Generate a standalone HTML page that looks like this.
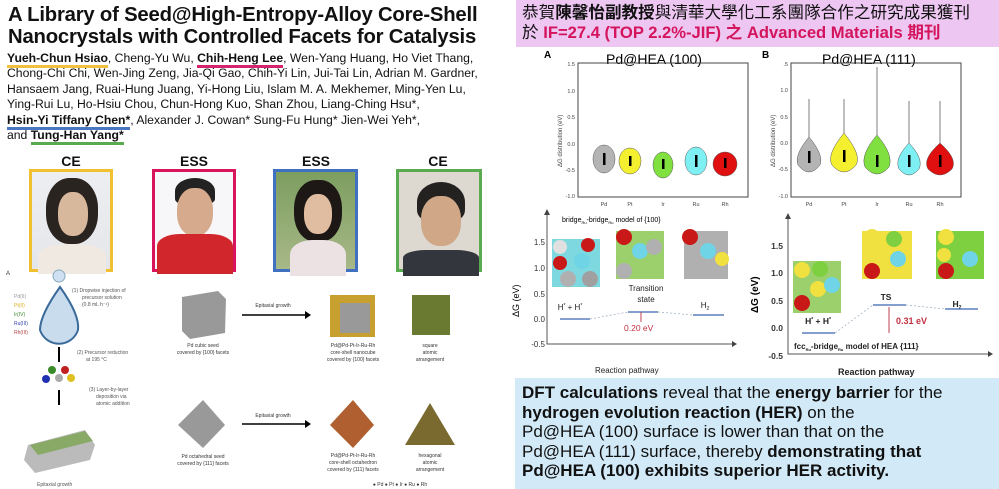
<!DOCTYPE html>
<html><head><meta charset="utf-8"><style>
*{margin:0;padding:0;box-sizing:border-box}
body{width:999px;height:489px;background:#fff;position:relative;overflow:hidden;font-family:"Liberation Sans","Noto Sans CJK TC",sans-serif;color:#111}
.a{position:absolute;white-space:nowrap}
.title{left:8px;top:4px;font-size:20.3px;font-weight:bold;line-height:22px;letter-spacing:-0.2px}
.auth{left:7px;top:51px;font-size:12.2px;line-height:15.4px}
.u{padding-bottom:0;border-bottom:3px solid}
.lab{font-size:14px;font-weight:bold;text-align:center;width:80px}
.ph{position:absolute;border:3px solid}
</style></head><body>
<div class="a title">A Library of Seed@High-Entropy-Alloy Core-Shell<br>Nanocrystals with Controlled Facets for Catalysis</div>
<div class="a auth"><b class="u" style="border-color:#f0c040">Yueh-Chun Hsiao</b>, Cheng-Yu Wu, <b class="u" style="border-color:#d4246e">Chih-Heng Lee</b>, Wen-Yang Huang, Ho Viet Thang,<br>Chong-Chi Chi, Wen-Jing Zeng, Jia-Qi Gao, Chih-Yi Lin, Jui-Tai Lin, Adrian M. Gardner,<br>Hansaem Jang, Ruai-Hung Juang, Yi-Hong Liu, Islam M. A. Mekhemer, Ming-Yen Lu,<br>Ying-Rui Lu, Ho-Hsiu Chou, Chun-Hong Kuo, Shan Zhou, Liang-Ching Hsu*,<br><b class="u" style="border-color:#4a78c0">Hsin-Yi Tiffany Chen*</b>, Alexander J. Cowan* Sung-Fu Hung* Jien-Wei Yeh*,<br>and <b class="u" style="border-color:#5aaa50">Tung-Han Yang*</b></div>

<div class="a lab" style="left:31px;top:153px">CE</div>
<div class="a lab" style="left:154px;top:153px">ESS</div>
<div class="a lab" style="left:276px;top:153px">ESS</div>
<div class="a lab" style="left:398px;top:153px">CE</div>
<div class="ph" style="left:29px;top:169px;width:84px;height:103px;border-color:#f0c030;background:linear-gradient(#eceef2,#e4e6ea)"><div style="position:absolute;left:14px;top:6px;width:52px;height:66px;border-radius:45%;background:#2a2420"></div><div style="position:absolute;left:26px;top:20px;width:30px;height:44px;border-radius:45%;background:#d8b89c"></div><div style="position:absolute;left:6px;top:72px;width:68px;height:30px;border-radius:40% 40% 0 0;background:#efe9e2"></div></div>
<div class="ph" style="left:152px;top:169px;width:84px;height:103px;border-color:#d8145c;background:#f7f7f9"><div style="position:absolute;left:20px;top:6px;width:40px;height:26px;border-radius:50% 50% 20% 20%;background:#222"></div><div style="position:absolute;left:22px;top:16px;width:36px;height:48px;border-radius:45%;background:#d6aa8c"></div><div style="position:absolute;left:2px;top:62px;width:76px;height:40px;border-radius:30% 30% 0 0;background:#d0262c"></div></div>
<div class="ph" style="left:273px;top:169px;width:85px;height:103px;border-color:#4070c0;background:linear-gradient(#7c9e60,#a8b888)"><div style="position:absolute;left:18px;top:8px;width:48px;height:62px;border-radius:45%;background:#1d1816"></div><div style="position:absolute;left:28px;top:22px;width:28px;height:40px;border-radius:45%;background:#e0bca0"></div><div style="position:absolute;left:14px;top:68px;width:56px;height:36px;border-radius:40% 40% 0 0;background:#ece2e4"></div></div>
<div class="ph" style="left:396px;top:169px;width:86px;height:103px;border-color:#5aaa50;background:#ddd9d0"><div style="position:absolute;left:18px;top:10px;width:48px;height:40px;border-radius:50% 50% 30% 30%;background:#242220"></div><div style="position:absolute;left:22px;top:24px;width:40px;height:50px;border-radius:45%;background:#d0a888"></div><div style="position:absolute;left:4px;top:78px;width:76px;height:26px;border-radius:30% 30% 0 0;background:#33363c"></div></div>

<svg class="a" style="left:0;top:255px" width="500" height="234">
<text x="6" y="20" font-size="6" fill="#333">A</text>
<circle cx="59" cy="21" r="6" fill="#cfe0f2" stroke="#8ab" />
<path d="M60 32 Q80 60 78 75 A20 20 0 0 1 40 75 Q40 60 60 32Z" fill="#c8dcee" stroke="#3a6a9a" stroke-width="2"/>
<g font-size="5" fill="#777"><text x="14" y="43" fill="#999">Pd(II)</text><text x="14" y="52" fill="#d8b020">Pt(II)</text><text x="14" y="61" fill="#3a8a2a">Ir(IV)</text><text x="14" y="70" fill="#3040b0">Ru(III)</text><text x="14" y="79" fill="#b04040">Rh(III)</text></g>
<g font-size="5" fill="#555"><text x="72" y="37">(1) Dropwise injection of</text><text x="82" y="44">precursor solution</text><text x="82" y="51">(0.8 mL h⁻¹)</text>
<text x="77" y="99">(2) Precursor reduction</text><text x="86" y="106">at 195 °C</text>
<text x="89" y="136">(3) Layer-by-layer</text><text x="96" y="143">deposition via</text><text x="96" y="150">atomic addition</text>
<text x="37" y="231">Epitaxial growth</text></g>
<path d="M59 92V107M59 135V150" stroke="#000" stroke-width="2"/>
<circle cx="52" cy="115" r="4" fill="#3a8a2a"/><circle cx="65" cy="115" r="4" fill="#c02020"/><circle cx="46" cy="124" r="4" fill="#2030b0"/><circle cx="59" cy="123" r="4" fill="#aaa"/><circle cx="71" cy="123" r="4" fill="#e0c020"/>
<path d="M28 190 L85 175 L95 190 L90 205 L35 218 L24 205Z" fill="#bbb"/>
<path d="M30 190 L85 176 L93 186 L38 200Z" fill="#8a6"/>
<g fill="#333" font-size="5" text-anchor="middle"><text x="203" y="92">Pd cubic seed</text><text x="203" y="99">covered by {100} facets</text>
<text x="203" y="203">Pd octahedral seed</text><text x="203" y="210">covered by {111} facets</text>
<text x="273" y="52">Epitaxial growth</text><text x="273" y="162">Epitaxial growth</text>
<text x="353" y="92">Pd@Pd-Pt-Ir-Ru-Rh</text><text x="353" y="99">core-shell nanocube</text><text x="353" y="106">covered by {100} facets</text>
<text x="353" y="202">Pd@Pd-Pt-Ir-Ru-Rh</text><text x="353" y="209">core-shell octahedron</text><text x="353" y="216">covered by {111} facets</text>
<text x="430" y="92">square</text><text x="430" y="99">atomic</text><text x="430" y="106">arrangement</text>
<text x="430" y="202">hexagonal</text><text x="430" y="209">atomic</text><text x="430" y="216">arrangement</text>
<text x="400" y="231">● Pd  ● Pt  ● Ir  ● Ru  ● Rh</text></g>
<path d="M182 42 L218 36 L226 44 L225 78 L190 84 L182 76Z" fill="#999"/>
<path d="M203 145 L225 170 L203 193 L178 170Z" fill="#999"/>
<path d="M242 60H305M242 169H305" stroke="#000" stroke-width="1.5"/><path d="M305 56L311 60L305 64ZM305 165L311 169L305 173Z"/>
<rect x="330" y="40" width="45" height="42" fill="#c8a030"/><rect x="340" y="48" width="30" height="30" fill="#999"/>
<rect x="412" y="40" width="38" height="40" fill="#6a7a30"/>
<path d="M353 145L374 170L353 193L330 170Z" fill="#b06030"/>
<path d="M430 148L455 190H405Z" fill="#7a6a30"/>
</svg>

<div class="a" style="left:516px;top:0;width:483px;height:47px;background:#edc6f2"></div>
<div class="a" style="left:522px;top:3px;font-size:16.6px;line-height:20px">恭賀<b>陳馨怡副教授</b>與清華大學化工系團隊合作之研究成果獲刊<br>於 <b style="color:#d4145c">IF=27.4 (TOP 2.2%-JIF) 之 Advanced Materials 期刊</b></div>

<svg class="a" style="left:500px;top:47px" width="499" height="160" font-family="Liberation Sans">
<text x="44" y="11" font-size="10" font-weight="bold">A</text><text x="106" y="17" font-size="14">Pd@HEA (100)</text>
<text x="262" y="11" font-size="10" font-weight="bold">B</text><text x="322" y="17" font-size="14">Pd@HEA (111)</text>
<rect x="78" y="16" width="170" height="134" fill="none" stroke="#444"/>
<rect x="291" y="16" width="170" height="134" fill="none" stroke="#444"/>
<g font-size="5.5" fill="#444" text-anchor="end">
<text x="75" y="19">1.5</text><text x="75" y="46">1.0</text><text x="75" y="72">0.5</text><text x="75" y="99">0.0</text><text x="75" y="125">-0.5</text><text x="75" y="151">-1.0</text>
<text x="288" y="19">.5</text><text x="288" y="45">1.0</text><text x="288" y="72">0.5</text><text x="288" y="98">0.0</text><text x="288" y="124">-0.5</text><text x="288" y="151">-1.0</text></g>
<g font-size="5.5" fill="#444" text-anchor="middle"><text x="104" y="159">Pd</text><text x="130" y="159">Pt</text><text x="163" y="159">Ir</text><text x="196" y="159">Ru</text><text x="225" y="159">Rh</text>
<text x="309" y="159">Pd</text><text x="344" y="159">Pt</text><text x="377" y="159">Ir</text><text x="409" y="159">Ru</text><text x="440" y="159">Rh</text></g>
<text transform="translate(62,120) rotate(-90)" font-size="6" fill="#444">ΔG distribution (eV)</text>
<text transform="translate(275,120) rotate(-90)" font-size="6" fill="#444">ΔG distribution (eV)</text>
<g stroke="#555" stroke-width="0.5">
<ellipse cx="104" cy="112" rx="11" ry="14" fill="#b4b4b4"/><ellipse cx="130" cy="114" rx="11" ry="13" fill="#f4f030"/><ellipse cx="163" cy="118" rx="10" ry="13" fill="#80e040"/><ellipse cx="196" cy="114" rx="11" ry="14" fill="#7ef0f4"/><ellipse cx="225" cy="117" rx="12" ry="12" fill="#e01010"/>
<path d="M309 52 L309 90 Q294 108 298 118 Q309 132 320 118 Q324 108 309 90Z" fill="#b4b4b4"/>
<path d="M344 52 L344 86 Q326 108 332 118 Q344 132 356 118 Q362 108 344 86Z" fill="#f4f030"/>
<path d="M377 20 L377 88 Q360 108 365 120 Q377 134 389 120 Q394 108 377 88Z" fill="#80e040"/>
<path d="M409 54 L409 96 Q394 112 399 122 Q409 134 419 122 Q424 112 409 96Z" fill="#7ef0f4"/>
<path d="M440 54 L440 96 Q422 112 428 122 Q440 134 452 122 Q458 112 440 96Z" fill="#e01010"/></g>
<g fill="#000"><rect x="103" y="106" width="2.5" height="12"/><rect x="129" y="109" width="2.5" height="10"/><rect x="162" y="112" width="2.5" height="10"/><rect x="195" y="108" width="2.5" height="12"/><rect x="224" y="111" width="2.5" height="10"/>
<rect x="308" y="104" width="2.5" height="12"/><rect x="343" y="103" width="2.5" height="12"/><rect x="376" y="108" width="2.5" height="12"/><rect x="408" y="108" width="2.5" height="12"/><rect x="439" y="108" width="2.5" height="12"/></g>
</svg>

<svg class="a" style="left:500px;top:207px" width="499" height="172" font-family="Liberation Sans">
<path d="M47 4V137H232M288 8V147H488" stroke="#555" fill="none"/>
<path d="M44 8L47 2L50 8ZM232 134L237 137L232 140ZM285 12L288 6L291 12ZM488 144L493 147L488 150Z" fill="#444"/>
<g font-size="8" fill="#333" text-anchor="end"><text x="45" y="38">1.5</text><text x="45" y="64">1.0</text><text x="45" y="90">0.5</text><text x="45" y="115">0.0</text><text x="45" y="140">-0.5</text></g>
<g font-size="8.5" font-weight="bold" fill="#333" text-anchor="end"><text x="283" y="42">1.5</text><text x="283" y="69">1.0</text><text x="283" y="97">0.5</text><text x="283" y="124">0.0</text><text x="283" y="152">-0.5</text></g>
<text transform="translate(19,110) rotate(-90)" font-size="9">ΔG (eV)</text>
<text transform="translate(258,106) rotate(-90)" font-size="10" font-weight="bold">ΔG (eV)</text>
<text x="62" y="15" font-size="7">bridge<tspan font-size="4" dy="2">Ru</tspan><tspan dy="-2">-bridge</tspan><tspan font-size="4" dy="2">Ru</tspan><tspan dy="-2"> model of {100}</tspan></text>
<rect x="52" y="32" width="48" height="48" fill="#7ed8e0"/><circle cx="60" cy="40" r="7" fill="#e0e0e0"/><circle cx="88" cy="38" r="7" fill="#c81818"/><circle cx="60" cy="56" r="7" fill="#c81818"/><circle cx="82" cy="54" r="8" fill="#6ed4e6"/><circle cx="68" cy="72" r="8" fill="#b0b0b0"/><circle cx="90" cy="72" r="8" fill="#a0a0a0"/>
<rect x="116" y="24" width="48" height="48" fill="#9cd06c"/><circle cx="124" cy="30" r="8" fill="#c81818"/><circle cx="140" cy="44" r="8" fill="#6ed4e6"/><circle cx="124" cy="64" r="8" fill="#b0b0b0"/><circle cx="154" cy="40" r="8" fill="#b0b0b0"/>
<rect x="184" y="24" width="44" height="48" fill="#b0b0b0"/><circle cx="190" cy="30" r="8" fill="#c81818"/><circle cx="208" cy="44" r="8" fill="#6ed4e6"/><circle cx="222" cy="52" r="7" fill="#f0e040"/>
<g font-size="8" text-anchor="middle" fill="#222"><text x="146" y="84">Transition</text><text x="146" y="95">state</text><text x="70" y="103">H<tspan font-size="5" dy="-3">*</tspan><tspan dy="3"> + H</tspan><tspan font-size="5" dy="-3">*</tspan></text><text x="205" y="101">H<tspan font-size="5" dy="2">2</tspan></text></g>
<path d="M60 112H90M128 105H158M193 108H224" stroke="#3a66b0" stroke-width="1.2"/>
<path d="M90 112L128 105M158 105L193 108" stroke="#9ab" stroke-dasharray="2 2" stroke-width="0.7"/>
<path d="M141 105V115" stroke="#c04050"/><text x="124" y="124" font-size="8.5" fill="#c03040">0.20 eV</text>
<text x="95" y="166" font-size="8" fill="#222">Reaction pathway</text>
<rect x="293" y="54" width="48" height="52" fill="#9cd06c"/><circle cx="302" cy="63" r="8" fill="#f0e040"/><circle cx="320" cy="62" r="8" fill="#7ed040"/><circle cx="318" cy="82" r="8" fill="#f0e040"/><circle cx="332" cy="78" r="8" fill="#6ed4e6"/><circle cx="302" cy="96" r="8" fill="#c81818"/>
<rect x="362" y="24" width="50" height="48" fill="#f0e040"/><circle cx="372" cy="30" r="8" fill="#f0e040"/><circle cx="394" cy="32" r="8" fill="#7ed040"/><circle cx="398" cy="52" r="8" fill="#6ed4e6"/><circle cx="372" cy="64" r="8" fill="#c81818"/>
<rect x="436" y="24" width="48" height="48" fill="#7ed040"/><circle cx="446" cy="30" r="8" fill="#f0e040"/><circle cx="470" cy="52" r="8" fill="#6ed4e6"/><circle cx="446" cy="64" r="8" fill="#c81818"/><circle cx="444" cy="48" r="7" fill="#f0e040"/>
<g font-size="8.5" font-weight="bold" text-anchor="middle" fill="#222"><text x="386" y="93">TS</text><text x="457" y="100">H<tspan font-size="5" dy="2">2</tspan></text><text x="318" y="117">H<tspan font-size="5" dy="-3">*</tspan><tspan dy="3"> + H</tspan><tspan font-size="5" dy="-3">*</tspan></text></g>
<path d="M302 126H335M373 98H406M445 102H478" stroke="#3a66b0" stroke-width="1.2"/>
<path d="M335 126L373 98M406 98L445 102" stroke="#9ab" stroke-dasharray="2 2" stroke-width="0.7"/>
<path d="M389 100V126" stroke="#c04050"/><text x="396" y="117" font-size="9" font-weight="bold" fill="#c03040">0.31 eV</text>
<text x="294" y="142" font-size="8" font-weight="bold" fill="#222">fcc<tspan font-size="4" dy="2">Ru</tspan><tspan dy="-2">-bridge</tspan><tspan font-size="4" dy="2">Ru</tspan><tspan dy="-2"> model of HEA {111}</tspan></text>
<text x="338" y="168" font-size="9" font-weight="bold" fill="#222">Reaction pathway</text>
</svg>

<div class="a" style="left:515px;top:378px;width:484px;height:111px;background:#d2eaf8"></div>
<div class="a" style="left:522px;top:383px;font-size:17px;line-height:19.6px"><b>DFT calculations</b> reveal that the <b>energy barrier</b> for the<br><b>hydrogen evolution reaction (HER)</b> on the<br>Pd@HEA (100) surface is lower than that on the<br>Pd@HEA (111) surface, thereby <b>demonstrating that</b><br><b>Pd@HEA (100) exhibits superior HER activity.</b></div>
</body></html>
